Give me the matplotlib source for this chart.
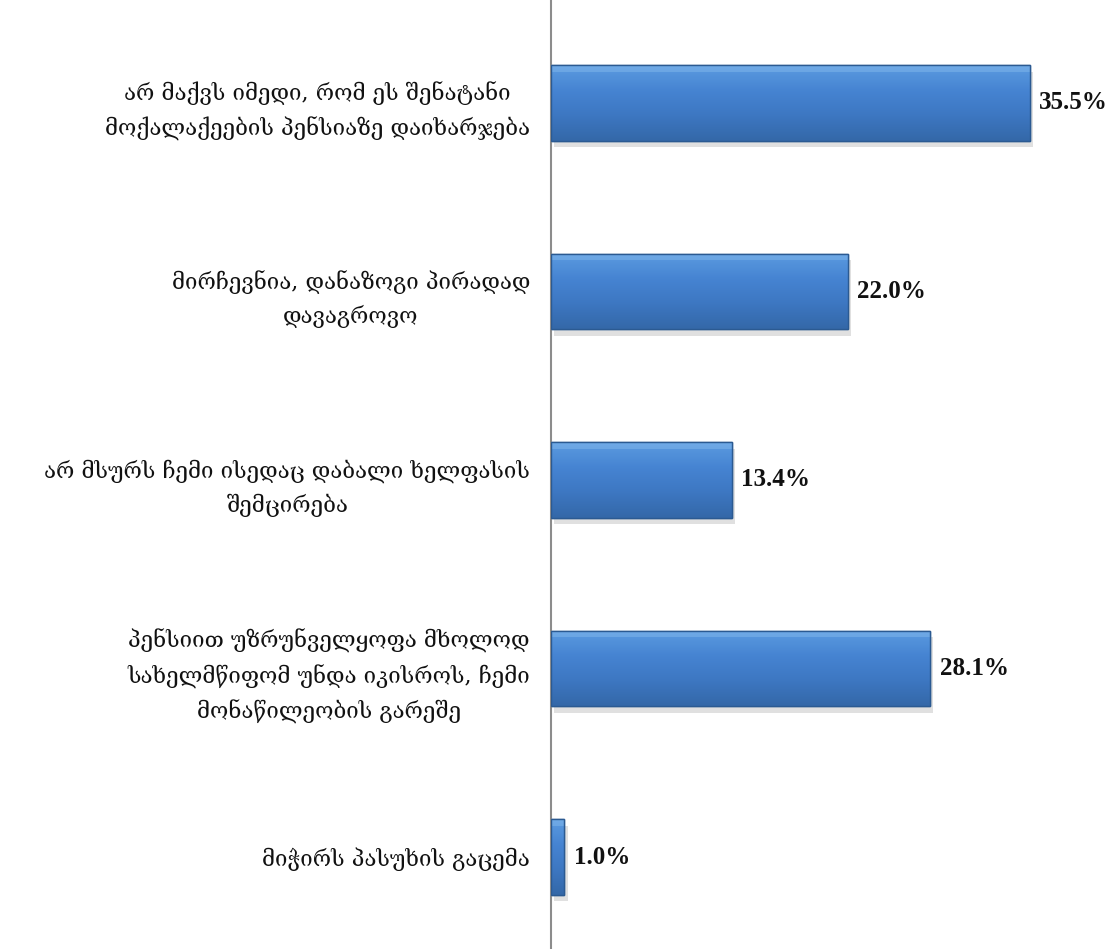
import numpy as np
import matplotlib.pyplot as plt
from matplotlib.colors import LinearSegmentedColormap

labels = [
    "არ მაქვს იმედი, რომ ეს შენატანი\nმოქალაქეების პენსიაზე დაიხარჯება",
    "მირჩევნია, დანაზოგი პირადად\nდავაგროვო",
    "არ მსურს ჩემი ისედაც დაბალი ხელფასის\nშემცირება",
    "პენსიით უზრუნველყოფა მხოლოდ\nსახელმწიფომ უნდა იკისროს, ჩემი\nმონაწილეობის გარეშე",
    "მიჭირს პასუხის გაცემა",
]
values = [35.5, 22.0, 13.4, 28.1, 1.0]

fig = plt.figure(figsize=(11.16, 9.49), dpi=100)
ax = fig.add_axes([551 / 1116, 0, 1 - 551 / 1116, 1])

ypos = np.arange(len(values))
h = 0.4

# soft shadow
ax.barh(ypos + 0.035, values, height=h, left=0.25, color='#000000', alpha=0.12, zorder=1)

bars = ax.barh(ypos, values, height=h, color='#3f7bc6', edgecolor='#2b5a92', linewidth=1.0, zorder=2)

# vertical gradient inside each bar
grad = np.linspace(0, 1, 100).reshape(-1, 1)
cmap = LinearSegmentedColormap.from_list('b', ['#5b9be0', '#4684d2', '#3d77c2', '#3468a8'])
for b, v, y in zip(bars, values, ypos):
    im = ax.imshow(grad, cmap=cmap, aspect='auto', extent=[0, v, y + h / 2, y - h / 2], zorder=3)
    im.set_clip_path(b)
    ax.fill_between([0, v], y - h / 2, y - h / 2 + 0.035, color='#8ec0f0', alpha=0.4, zorder=4, lw=0)
    ax.barh(y, v, height=h, color='none', edgecolor='#2b5a92', linewidth=1.0, zorder=5)

for v, y in zip(values, ypos):
    ax.annotate(f"{v:.1f}%", (v, y), xytext=(7, 0), textcoords='offset points',
                ha='left', va='center', fontsize=18, fontweight='bold',
                family='Liberation Serif', color='#111111')

ax.set_xlim(0, 41.9)
ax.set_ylim(4.488, -0.546)
ax.set_yticks(ypos)
ax.set_yticklabels(labels, fontsize=16, family=['DejaVu Serif', 'DejaVu Sans'], color='#111111')
for t in ax.get_yticklabels():
    t.set_multialignment('center')
    t.set_linespacing(1.6)
ax.tick_params(axis='y', length=0, pad=15)
ax.set_xticks([])
for s in ['top', 'right', 'bottom']:
    ax.spines[s].set_visible(False)
ax.spines['left'].set_color('#8c8c8c')
ax.spines['left'].set_linewidth(1.5)

fig.savefig('out.png', dpi=100)
